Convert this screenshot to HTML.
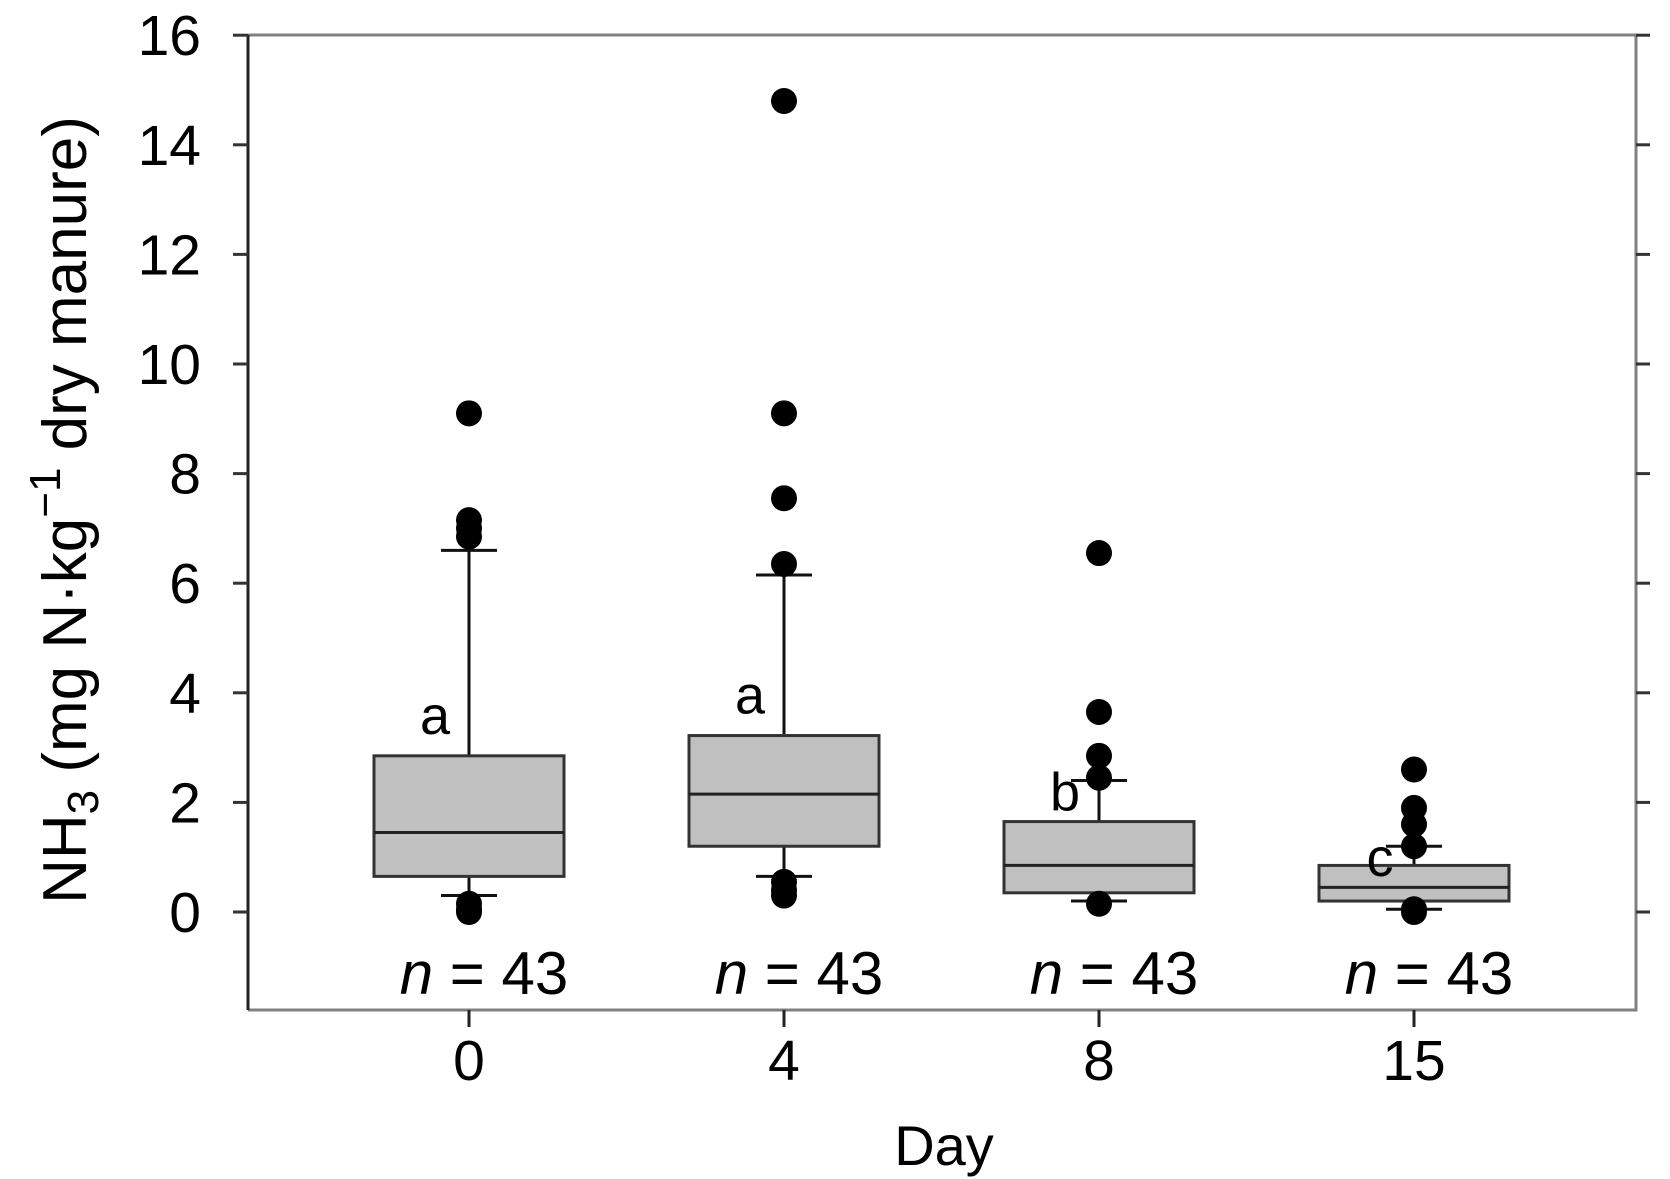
<!DOCTYPE html>
<html><head><meta charset="utf-8"><style>
body{margin:0;background:#fff}
svg{display:block;font-family:"Liberation Sans",Arial,sans-serif}
</style></head><body>
<svg id="chart" width="1670" height="1179" viewBox="0 0 1670 1179">
<g id="frame"></g>
<g id="yaxis"></g>
<g id="xaxis"></g>
<g id="boxes"></g>
<text x="944" y="1165" font-size="56" text-anchor="middle">Day</text>
<text transform="translate(86,510) rotate(-90)" font-size="62" text-anchor="middle">NH<tspan font-size="44" dy="12">3</tspan><tspan dy="-12"> (mg N·kg</tspan><tspan font-size="44" dy="-26">−1</tspan><tspan dy="26"> dry manure)</tspan></text>
</svg>
<script>
const categories=["0","4","8","15"];
const q1=[0.65,1.2,0.35,0.2];
const medians=[1.45,2.15,0.85,0.45];
const q3=[2.85,3.22,1.65,0.85];
const whiskerLow=[0.3,0.65,0.2,0.05];
const whiskerHigh=[6.6,6.15,2.4,1.2];
const outliers=[[9.1,7.15,7.0,6.85,0.15,0.05,0.0],[14.8,9.1,7.55,6.35,0.55,0.4,0.3],[6.55,3.65,2.85,2.45,0.15],[2.6,1.9,1.6,1.2,0.05,0.0]];
const letters=["a","a","b","c"];
const nLabels=["43","43","43","43"];
const yTicks=[0,2,4,6,8,10,12,14,16];

const NS="http://www.w3.org/2000/svg";
const L=248,R=1636,T=35,B=1010;
const y=v=>912-v*54.8;
const x=i=>469+i*315;
function mk(tag,attrs,parent,text){const e=document.createElementNS(NS,tag);for(const k in attrs)e.setAttribute(k,attrs[k]);if(text!==undefined)e.textContent=text;parent.appendChild(e);return e;}
const frame=document.getElementById('frame'),ya=document.getElementById('yaxis'),xa=document.getElementById('xaxis'),bx=document.getElementById('boxes');
let f=mk('path',{d:`M${L},${T}H${R}V${B}H${L}`,fill:'none',stroke:'#808080','stroke-width':3},frame);


let la=mk('line',{x1:L,y1:T,x2:L,y2:B,stroke:'#222','stroke-width':3},frame);


yTicks.forEach(t=>{
  let tk=mk('line',{x1:233,x2:L,y1:y(t),y2:y(t),stroke:'#333','stroke-width':3},ya);
  
  
  let tr=mk('line',{x1:R,x2:R+14,y1:y(t),y2:y(t),stroke:'#333','stroke-width':3},ya);
  
  
  let lb=mk('text',{x:201,y:y(t)+20,'font-size':57,'text-anchor':'end'},ya,String(t));
  
  
});
categories.forEach((c,i)=>{
  const cx=x(i);
  let tk=mk('line',{x1:cx,x2:cx,y1:B,y2:B+17,stroke:'#222','stroke-width':3},xa);
  
  
  let lb=mk('text',{x:cx,y:1080,'font-size':57,'text-anchor':'middle'},xa,c);
  
  
  const g=mk('g',{},bx);
  
  
  const s={stroke:'#111','stroke-width':3};
  let w1=mk('line',Object.assign({x1:cx,x2:cx,y1:y(q3[i]),y2:y(whiskerHigh[i])},s),g);
  
  
  let w2=mk('line',Object.assign({x1:cx,x2:cx,y1:y(q1[i]),y2:y(whiskerLow[i])},s),g);
  
  
  let c1=mk('line',Object.assign({x1:cx-28,x2:cx+28,y1:y(whiskerHigh[i]),y2:y(whiskerHigh[i])},s),g);
  
  
  let c2=mk('line',Object.assign({x1:cx-28,x2:cx+28,y1:y(whiskerLow[i]),y2:y(whiskerLow[i])},s),g);
  
  
  let r=mk('rect',{x:cx-95,y:y(q3[i]),width:190,height:y(q1[i])-y(q3[i]),fill:'#c0c0c0',stroke:'#333','stroke-width':3},g);
  
  
  let m=mk('line',{x1:cx-95,x2:cx+95,y1:y(medians[i]),y2:y(medians[i]),stroke:'#222','stroke-width':3},g);
  
  
  outliers[i].forEach(v=>{
    let d=mk('circle',{cx:cx,cy:y(v),r:13,fill:'#000'},g);
    
    
  });
  const tall=whiskerHigh[i]>q3[i]+1.5;
  let lt=mk('text',{x:cx-34,y:tall?y(q3[i])-22:y(whiskerHigh[i])+30,'font-size':54,'text-anchor':'middle'},g,letters[i]);
  
  
  let n=mk('text',{x:cx+15,y:994,'font-size':60,'text-anchor':'middle'},g);
  
  
  mk('tspan',{'font-style':'italic'},n,'n');
  mk('tspan',{},n,' = '+nLabels[i]);
});
</script>
</body></html>
